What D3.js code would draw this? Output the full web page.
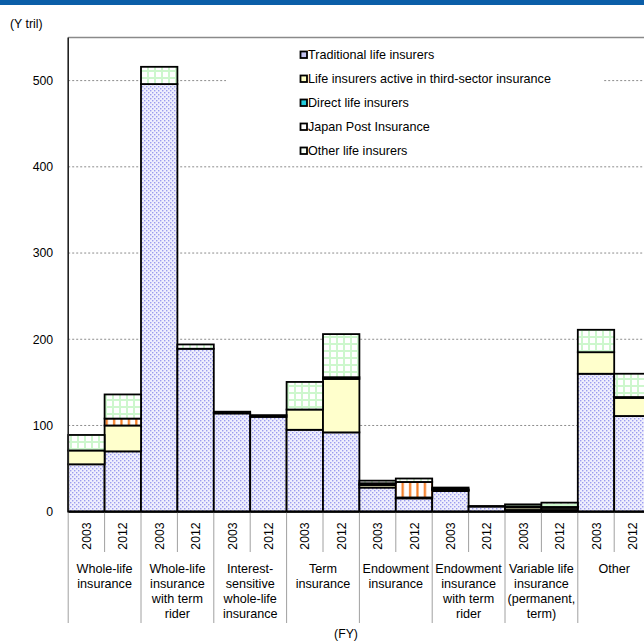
<!DOCTYPE html>
<html>
<head>
<meta charset="utf-8">
<script src="https://cdn.jsdelivr.net/npm/d3@7"></script>
<style>
  html, body { margin: 0; padding: 0; background: #fff; }
  svg { display: block; font-family: "Liberation Sans", Arial, sans-serif; }
</style>
</head>
<body>
<svg id="chart" width="644" height="642"></svg>
<script>
// Policy amounts in force by product type, FY2003 vs FY2012 (Y tril)
const categories = [
  ["Whole-life", "insurance"],
  ["Whole-life", "insurance", "with term", "rider"],
  ["Interest-", "sensitive", "whole-life", "insurance"],
  ["Term", "insurance"],
  ["Endowment", "insurance"],
  ["Endowment", "insurance", "with term", "rider"],
  ["Variable life", "insurance", "(permanent,", "term)"],
  ["Other"]
];
const years = ["2003", "2012"];

// one value per bar: category order, 2003 then 2012
const traditional = [55, 70, 496, 189, 114, 110, 95, 92, 28, 15.5, 24, 6, 2, 2, 160, 111];
const thirdSector = [16, 30, 0, 0, 0, 0, 23.5, 62, 3, 1, 1, 0, 3, 2.5, 25, 21];
const directLife  = [0, 0, 0, 0, 0, 0, 0, 2, 0, 0, 0, 0, 1, 1, 0, 1];
const japanPost   = [0, 8, 0, 0, 0, 0, 0, 0, 2, 18, 1, 0, 0, 0, 0, 0];
const otherLife   = [18, 28, 20, 5, 2, 2, 32, 50, 3, 4, 2, 0.6, 2.5, 5, 26, 27];

const seriesNames = [
  "Traditional life insurers",
  "Life insurers active in third-sector insurance",
  "Direct life insurers",
  "Japan Post Insurance",
  "Other life insurers"
];
const yTicks = [0, 100, 200, 300, 400, 500];

const svg = d3.select("#chart");
const defs = svg.append("defs");

// fill patterns
const pDots = defs.append("pattern").attr("id", "pTrad").attr("patternUnits", "userSpaceOnUse")
  .attr("width", 4).attr("height", 4);
pDots.append("rect").attr("width", 4).attr("height", 4).attr("fill", "#efeffd");
pDots.append("rect").attr("x", 0).attr("y", 0).attr("width", 1.4).attr("height", 1.4).attr("fill", "#9c9cee");
pDots.append("rect").attr("x", 2).attr("y", 2).attr("width", 1.4).attr("height", 1.4).attr("fill", "#9c9cee");

const pStripe = defs.append("pattern").attr("id", "pJP").attr("patternUnits", "userSpaceOnUse")
  .attr("width", 7.4).attr("height", 10);
pStripe.append("rect").attr("width", 7.4).attr("height", 10).attr("fill", "#ffffff");
pStripe.append("rect").attr("x", 2).attr("width", 2.2).attr("height", 10).attr("fill", "#f57c22");

const pGrid = defs.append("pattern").attr("id", "pOther").attr("patternUnits", "userSpaceOnUse")
  .attr("width", 7).attr("height", 7);
pGrid.append("rect").attr("width", 7).attr("height", 7).attr("fill", "#cdf7cd");
pGrid.append("rect").attr("x", 2).attr("y", 2).attr("width", 5).attr("height", 5).attr("fill", "#ffffff");

const fills = ["url(#pTrad)", "#ffffcc", "#33ccdd", "url(#pJP)", "url(#pOther)"];
const swatchFills = ["#c4c4f2", "#ffffc4", "#22ccdd", "#ffffff", "#f6fff6"];

// scales
const plotLeft = 68.2, plotRight = 650.6, plotTop = 37.5, plotBottom = 511.7;
const barKeys = d3.range(categories.length * years.length);
const x = d3.scaleBand().domain(barKeys).range([plotLeft, plotRight]).padding(0);
const xGroup = d3.scaleBand().domain(d3.range(categories.length)).range([plotLeft, plotRight]).padding(0);
const y = d3.scaleLinear().domain([0, 550]).range([plotBottom, plotTop]);

// top banner
svg.append("rect").attr("x", 0).attr("y", 0).attr("width", 644).attr("height", 5).attr("fill", "#0b5ea8");

// gridlines
svg.append("g")
  .selectAll("line").data(yTicks.filter(d => d > 0)).join("line")
  .attr("x1", plotLeft).attr("x2", plotRight)
  .attr("y1", d => y(d)).attr("y2", d => y(d))
  .attr("stroke", "#8c8c8c").attr("stroke-width", 1).attr("stroke-dasharray", "2,2");

// frame
svg.append("line").attr("x1", plotLeft).attr("x2", plotRight).attr("y1", plotTop).attr("y2", plotTop)
  .attr("stroke", "#8a8a8a").attr("stroke-width", 1.6);
svg.append("line").attr("x1", plotRight).attr("x2", plotRight).attr("y1", plotTop).attr("y2", plotBottom)
  .attr("stroke", "#8a8a8a").attr("stroke-width", 1.6);

// legend background
svg.append("rect").attr("x", 226).attr("y", 42).attr("width", 378).attr("height", 118).attr("fill", "#fff");

// stacked bars
const rows = barKeys.map(i => ({
  key: i,
  trad: traditional[i], third: thirdSector[i], direct: directLife[i], jp: japanPost[i], other: otherLife[i]
}));
const keys = ["trad", "third", "direct", "jp", "other"];
const stacked = d3.stack().keys(keys)(rows);

const layers = svg.append("g").selectAll("g").data(stacked).join("g")
  .attr("fill", (d, i) => fills[i]);
layers.selectAll("rect").data(d => d.filter(s => s[1] - s[0] > 0)).join("rect")
  .attr("x", d => x(d.data.key))
  .attr("width", x.bandwidth())
  .attr("y", d => y(d[1]))
  .attr("height", d => y(d[0]) - y(d[1]))
  .attr("stroke", "#000").attr("stroke-width", 1.8);

// y axis line and labels
svg.append("line").attr("x1", plotLeft).attr("x2", plotLeft).attr("y1", plotTop).attr("y2", plotBottom)
  .attr("stroke", "#222").attr("stroke-width", 1.6);
const yAxis = svg.append("g").attr("transform", `translate(${plotLeft},0)`)
  .call(d3.axisLeft(y).tickValues(yTicks).tickSize(0).tickPadding(15));
yAxis.select(".domain").remove();
yAxis.selectAll("text").attr("font-size", 12.3).attr("fill", "#000")
  .style("font-family", "'Liberation Sans', Arial, sans-serif");

svg.append("text").attr("x", 10).attr("y", 28).attr("font-size", 12.3).text("(Y tril)");

// x axis: baseline, separators, year and category labels
svg.append("line").attr("x1", plotLeft).attr("x2", plotRight).attr("y1", plotBottom).attr("y2", plotBottom)
  .attr("stroke", "#000").attr("stroke-width", 2.2);

const sepG = svg.append("g").attr("stroke", "#a0a0a0").attr("stroke-width", 1);
barKeys.filter(i => i % 2 === 1).forEach(i => {
  sepG.append("line").attr("x1", x(i)).attr("x2", x(i)).attr("y1", plotBottom + 1).attr("y2", 552);
});
d3.range(categories.length + 1).forEach(g => {
  const gx = g < categories.length ? xGroup(g) : plotRight;
  sepG.append("line").attr("x1", gx).attr("x2", gx).attr("y1", plotBottom + 1).attr("y2", 623);
});

svg.append("g").selectAll("text").data(barKeys).join("text")
  .attr("transform", i => `translate(${x(i) + x.bandwidth() / 2 + 4.5},536) rotate(-90)`)
  .attr("text-anchor", "middle").attr("font-size", 12.3)
  .text(i => years[i % 2]);

const catG = svg.append("g").selectAll("text").data(categories).join("text")
  .attr("text-anchor", "middle").attr("font-size", 12.6)
  .attr("x", (d, i) => xGroup(i) + xGroup.bandwidth() / 2);
catG.selectAll("tspan").data(d => d).join("tspan")
  .attr("x", function () { return this.parentNode.getAttribute("x"); })
  .attr("y", (d, j) => 572.5 + j * 15)
  .text(d => d);

svg.append("text").attr("x", 346).attr("y", 637.5).attr("text-anchor", "middle")
  .attr("font-size", 12.3).text("(FY)");

// legend
const leg = svg.append("g").selectAll("g").data(seriesNames).join("g")
  .attr("transform", (d, i) => `translate(300,${55 + i * 24})`);
leg.append("rect").attr("x", 0.5).attr("y", -3.5).attr("width", 6.5).attr("height", 6.5)
  .attr("fill", (d, i) => swatchFills[i]).attr("stroke", "#000").attr("stroke-width", 1.8);
leg.append("text").attr("x", 8).attr("y", 4.3).attr("font-size", 12.6).text(d => d);
</script>
</body>
</html>
